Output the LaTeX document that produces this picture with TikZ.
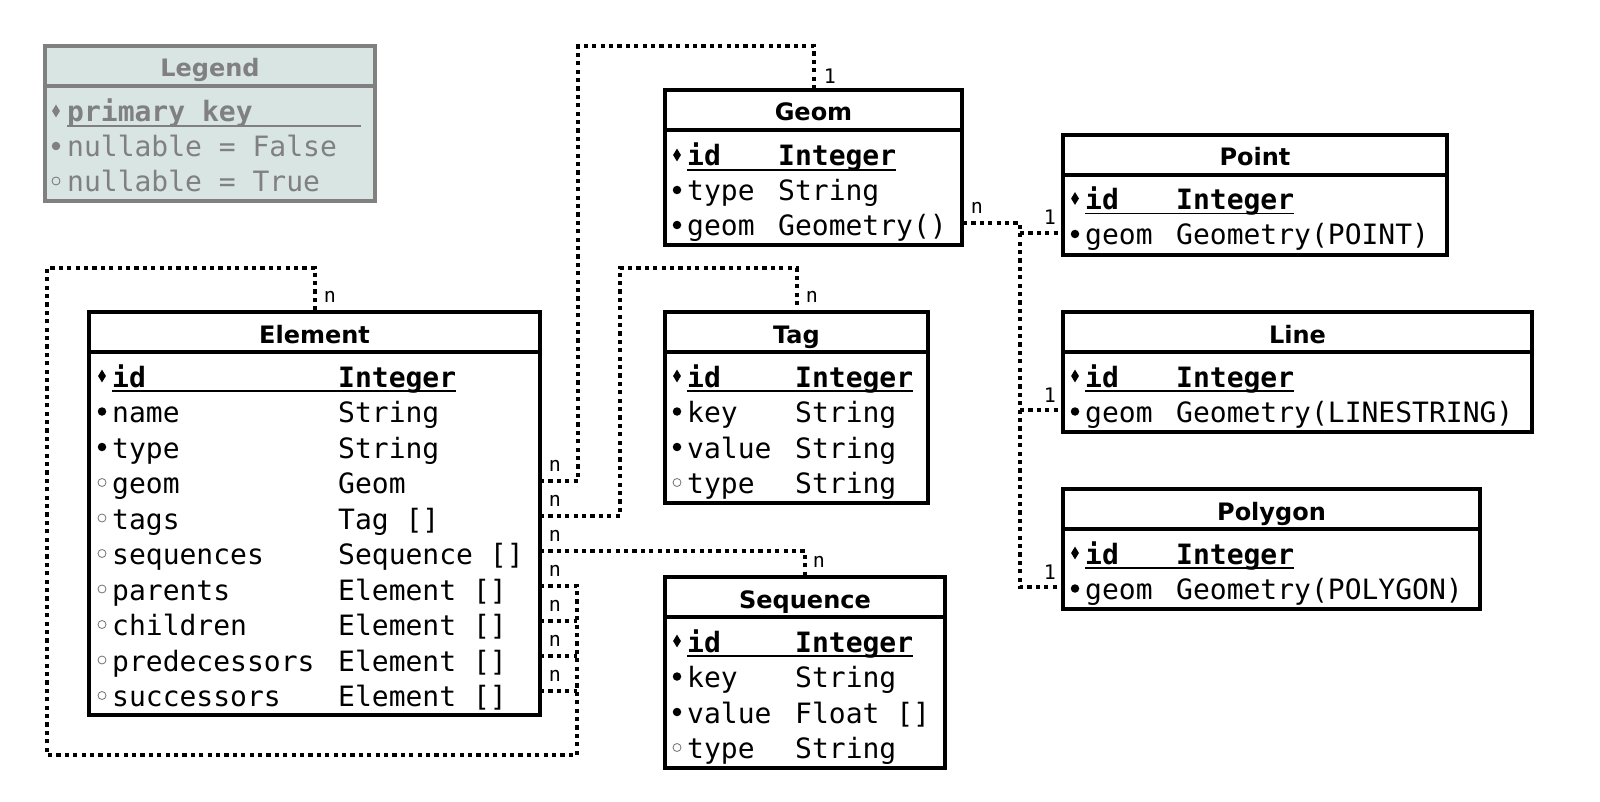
\documentclass[tikz,border=0pt]{standalone}
\usepackage{fontspec}
\setmainfont{DejaVu Sans}
\newfontfamily\erdsans{DejaVu Sans}
\newfontfamily\erdmono{DejaVu Sans Mono}
\usetikzlibrary{calc,shapes.geometric}
\definecolor{legfill}{RGB}{216,229,226}
\definecolor{leggray}{RGB}{128,128,128}
\tikzset{
  tbl/.style={draw=black, line width=3.3pt, fill=white, inner sep=0pt, outer sep=0pt, anchor=north west},
  legbox/.style={tbl, draw=leggray, fill=legfill},
  tblline/.style={draw=black, line width=3.3pt},
  hdr/.style={font=\erdsans\bfseries\fontsize{24}{28}\selectfont, inner sep=0pt, anchor=base},
  fldpk/.style={font=\erdmono\bfseries\fontsize{28}{32}\selectfont, inner sep=0pt},
  fldnn/.style={font=\erdmono\fontsize{28}{32}\selectfont, inner sep=0pt},
  fldnl/.style={fldnn},
  markpk/.style={shape=diamond, fill=black, inner sep=0pt, minimum width=8pt, minimum height=13pt},
  marknn/.style={shape=circle, fill=black, inner sep=0pt, minimum size=8.5pt},
  marknl/.style={shape=circle, draw=black!55, line width=0.8pt, inner sep=0pt, minimum size=8pt},
  uline/.style={line width=1.6pt},
  rel/.style={line width=4pt, dash pattern=on 4.2pt off 4.2pt},
  lbl/.style={font=\erdmono\fontsize{20}{24}\selectfont, inner sep=0pt},
}
\newcommand\erow[7]{%
  \node[mark#5] (#1-m) at ($(#2,#4)+(-10,-11)$) {};
  \node[fld#5, anchor=base west] (#1-f) at (#2,#4) {#6};
  \node[fld#5, anchor=base west] (#1-t) at (#3,#4) {#7};
}
\newcommand\pkline[1]{\draw[uline] ($(#1-f.base west)+(0,4)$) -- ($(#1-t.base east)+(0,4)$);}
\newcommand\hsep[2][black]{\draw[tblline, draw=#1] ($(#2.north west)+(0,40)$) -- ($(#2.north east)+(0,40)$);}
\begin{document}
\begin{tikzpicture}[x=1pt,y=-1pt]
\useasboundingbox (0,0) rectangle (1600,802);
% ---------- connector ports ----------
\coordinate (el-geom-p) at (540,481);
\coordinate (el-tags-p) at (540,516);
\coordinate (el-seq-p) at (540,551);
\coordinate (el-par-p) at (540,586);
\coordinate (el-chi-p) at (540,621);
\coordinate (el-pred-p) at (540,656);
\coordinate (el-succ-p) at (540,691);
\coordinate (geom-geom-p) at (963,223);
\coordinate (point-geom-p) at (1063,233);
\coordinate (line-geom-p) at (1063,410);
\coordinate (polygon-geom-p) at (1063,587);
\coordinate (junc) at (1020,223);
% ---------- legend ----------
\node[legbox, minimum width=330pt, minimum height=155pt] (legend) at (45,46) {};
\hsep[leggray]{legend}
\node[hdr, text=leggray] (legend-h) at ($(legend.north)+(0,31)$) {Legend};
\node[markpk, fill=leggray] (lg-pk-m) at (56,111) {};
\node[fldpk, text=leggray, anchor=base west] (lg-pk-f) at (67,122) {primary key};
\draw[uline, leggray] (67,126) -- (361,126);
\node[marknn, fill=leggray] (lg-nn-m) at (56,146) {};
\node[fldnn, text=leggray, anchor=base west] (lg-nn-f) at (67,157) {nullable = False};
\node[marknl] (lg-nl-m) at (56,181) {};
\node[fldnn, text=leggray, anchor=base west] (lg-nl-f) at (67,192) {nullable = True};
% ---------- Element ----------
\node[tbl, minimum width=451pt, minimum height=403pt] (element) at (89,312) {};
\hsep{element}
\node[hdr] (element-h) at ($(element.north)+(0,31)$) {Element};
\erow{el-id}{112}{338}{387}{pk}{id}{Integer}\pkline{el-id}
\erow{el-name}{112}{338}{422.5}{nn}{name}{String}
\erow{el-type}{112}{338}{458}{nn}{type}{String}
\erow{el-geom}{112}{338}{493.5}{nl}{geom}{Geom}
\erow{el-tags}{112}{338}{529}{nl}{tags}{Tag []}
\erow{el-seq}{112}{338}{564.5}{nl}{sequences}{Sequence []}
\erow{el-par}{112}{338}{600}{nl}{parents}{Element []}
\erow{el-chi}{112}{338}{635.5}{nl}{children}{Element []}
\erow{el-pred}{112}{338}{671}{nl}{predecessors}{Element []}
\erow{el-succ}{112}{338}{706.5}{nl}{successors}{Element []}
% ---------- Geom ----------
\node[tbl, minimum width=297pt, minimum height=155pt] (geom) at (665,90) {};
\hsep{geom}
\node[hdr] (geom-h) at ($(geom.north)+(0,31)$) {Geom};
\erow{ge-id}{687}{778}{166}{pk}{id}{Integer}\pkline{ge-id}
\erow{ge-type}{687}{778}{201}{nn}{type}{String}
\erow{ge-geom}{687}{778}{236}{nn}{geom}{Geometry()}
% ---------- Tag ----------
\node[tbl, minimum width=263pt, minimum height=191pt] (tag) at (665,312) {};
\hsep{tag}
\node[hdr] (tag-h) at ($(tag.north)+(0,31)$) {Tag};
\erow{tg-id}{687}{795}{387}{pk}{id}{Integer}\pkline{tg-id}
\erow{tg-key}{687}{795}{422.5}{nn}{key}{String}
\erow{tg-value}{687}{795}{458}{nn}{value}{String}
\erow{tg-type}{687}{795}{493.5}{nl}{type}{String}
% ---------- Sequence ----------
\node[tbl, minimum width=280pt, minimum height=191pt] (sequence) at (665,577) {};
\hsep{sequence}
\node[hdr] (sequence-h) at ($(sequence.north)+(0,31)$) {Sequence};
\erow{sq-id}{687}{795}{652}{pk}{id}{Integer}\pkline{sq-id}
\erow{sq-key}{687}{795}{687.5}{nn}{key}{String}
\erow{sq-value}{687}{795}{723}{nn}{value}{Float []}
\erow{sq-type}{687}{795}{758.5}{nl}{type}{String}
% ---------- Point ----------
\node[tbl, minimum width=384pt, minimum height=120pt] (point) at (1063,135) {};
\hsep{point}
\node[hdr] (point-h) at ($(point.north)+(0,31)$) {Point};
\erow{pt-id}{1085}{1176}{209.5}{pk}{id}{Integer}\pkline{pt-id}
\erow{pt-geom}{1085}{1176}{245}{nn}{geom}{Geometry(POINT)}
% ---------- Line ----------
\node[tbl, minimum width=469pt, minimum height=120pt] (line) at (1063,312) {};
\hsep{line}
\node[hdr] (line-h) at ($(line.north)+(0,31)$) {Line};
\erow{ln-id}{1085}{1176}{387}{pk}{id}{Integer}\pkline{ln-id}
\erow{ln-geom}{1085}{1176}{422.5}{nn}{geom}{Geometry(LINESTRING)}
% ---------- Polygon ----------
\node[tbl, minimum width=417pt, minimum height=120pt] (polygon) at (1063,489) {};
\hsep{polygon}
\node[hdr] (polygon-h) at ($(polygon.north)+(0,31)$) {Polygon};
\erow{pg-id}{1085}{1176}{564}{pk}{id}{Integer}\pkline{pg-id}
\erow{pg-geom}{1085}{1176}{599.5}{nn}{geom}{Geometry(POLYGON)}
% ---------- relations ----------
\draw[rel] (el-geom-p) -- ++(38,0) -- ++(0,-435) -| (geom.north);
\draw[rel] (el-tags-p) -- ++(80,0) -- ++(0,-248) -| (tag.north);
\draw[rel] (el-seq-p) -| (sequence.north);
\draw[rel] (el-par-p) -- ++(37,0) -- ++(0,169) -- ++(-530,0) -- ++(0,-487) -| (element.north);
\draw[rel] (el-chi-p) -- ++(37,0);
\draw[rel] (el-pred-p) -- ++(37,0);
\draw[rel] (el-succ-p) -- ++(37,0);
\draw[rel] (geom-geom-p) -- (junc) |- (polygon-geom-p);
\draw[rel] (junc |- point-geom-p) -- (point-geom-p);
\draw[rel] (junc |- line-geom-p) -- (line-geom-p);
% ---------- labels ----------
\node[lbl] (lb-geom-top) at (830,76) {1};
\node[lbl] (lb-el-top) at (330,297) {n};
\node[lbl] (lb-tag-top) at (812,297) {n};
\node[lbl] (lb-seq-top) at (819,562) {n};
\node[lbl] (lb-el-geom) at (555,466) {n};
\node[lbl] (lb-el-tags) at (555,501) {n};
\node[lbl] (lb-el-seq) at (555,536) {n};
\node[lbl] (lb-el-par) at (555,571) {n};
\node[lbl] (lb-el-chi) at (555,606) {n};
\node[lbl] (lb-el-pred) at (555,641) {n};
\node[lbl] (lb-el-succ) at (555,676) {n};
\node[lbl] (lb-ge-geom) at (977,208) {n};
\node[lbl] (lb-pt) at (1050,217) {1};
\node[lbl] (lb-ln) at (1050,395) {1};
\node[lbl] (lb-pg) at (1050,572) {1};
\end{tikzpicture}
\end{document}
